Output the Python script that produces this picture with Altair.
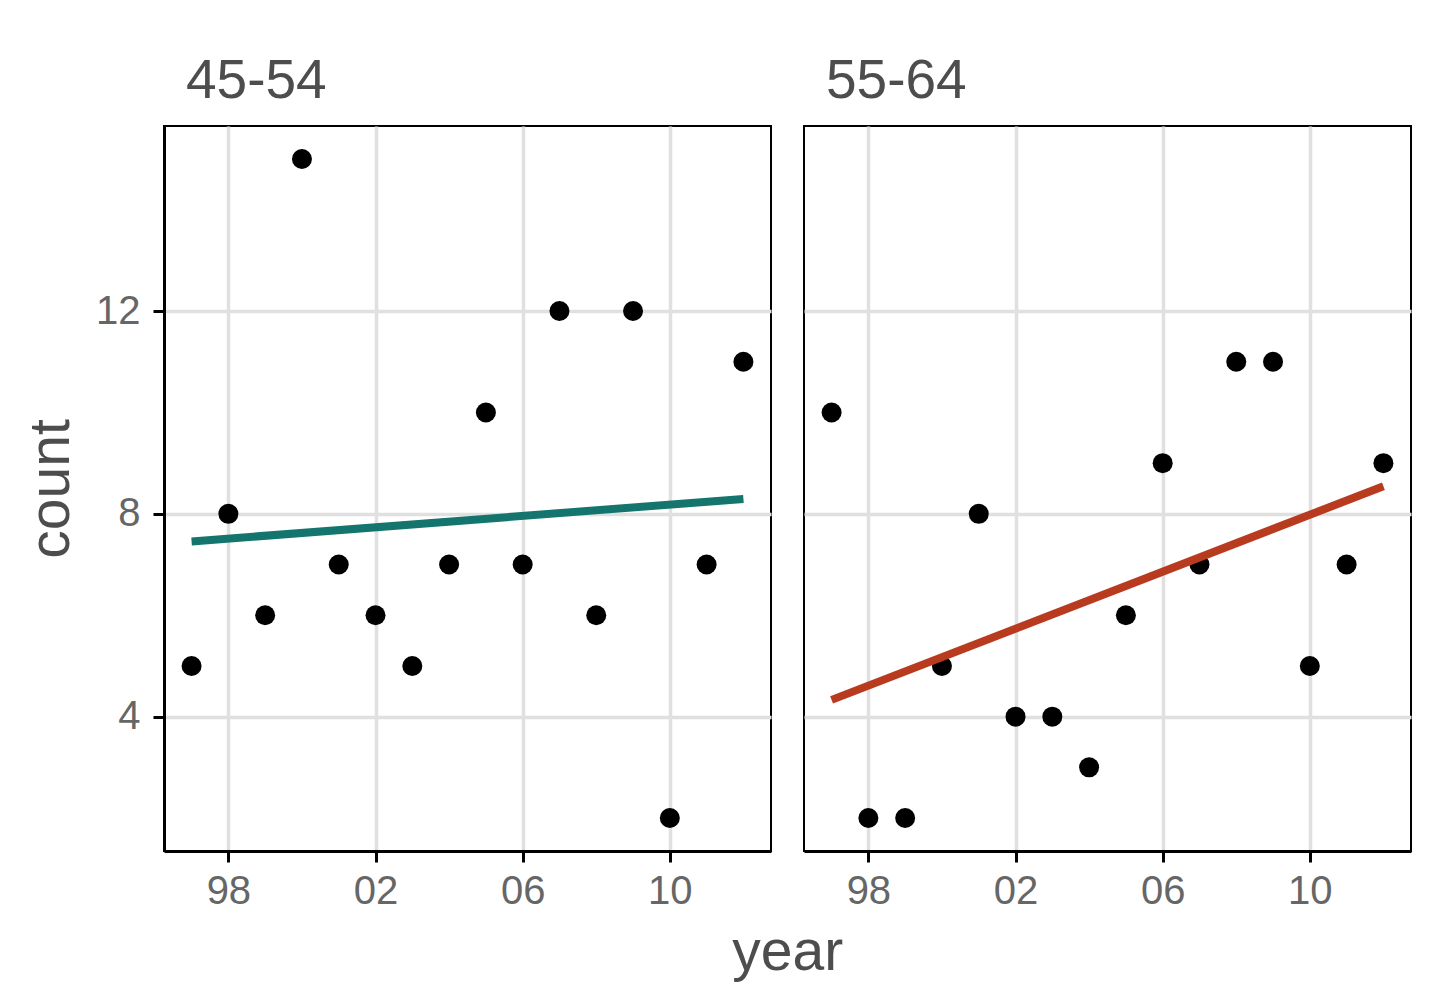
import pandas as pd
import altair as alt

# Values
years = list(range(1997, 2013))
count_45_54 = [5, 8, 6, 15, 7, 6, 5, 7, 10, 7, 12, 6, 12, 2, 7, 11]
count_55_64 = [10, 2, 2, 5, 8, 4, 4, 3, 6, 9, 7, 11, 11, 5, 7, 9]
year_ticks = [1998, 2002, 2006, 2010]
count_ticks = [4, 8, 12]

FONT = 'Liberation Sans'
GRID = '#e0e0e0'


def panel(values, title, line_color, show_y):
    df = pd.DataFrame({'year': years, 'count': values})

    x = alt.X('year:Q', title=None,
              scale=alt.Scale(domain=[1996.25, 2012.75], nice=False, zero=False),
              axis=alt.Axis(values=year_ticks, format='d',
                            labelExpr="substring(datum.label, 2)",
                            grid=True, gridColor=GRID, gridWidth=3.5,
                            domainColor='black', domainWidth=3,
                            tickColor='black', tickWidth=3, tickSize=11,
                            labelFontSize=40, labelColor='#666666', labelFont=FONT,
                            labelPadding=9))
    if show_y:
        yaxis = alt.Axis(values=count_ticks, title='count',
                         grid=True, gridColor=GRID, gridWidth=3.5,
                         domainColor='black', domainWidth=3,
                         tickColor='black', tickWidth=3, tickSize=11,
                         labelFontSize=40, labelColor='#666666', labelFont=FONT,
                         labelPadding=13,
                         titleFontSize=57, titleColor='#4d4d4d', titleFont=FONT,
                         titleFontWeight='normal', titlePadding=15)
    else:
        yaxis = alt.Axis(values=count_ticks, title=None, labels=False, ticks=False,
                         domain=False, grid=True, gridColor=GRID, gridWidth=3.5)
    y = alt.Y('count:Q', scale=alt.Scale(domain=[1.35, 15.65], nice=False, zero=False),
              axis=yaxis)

    points = alt.Chart(df).mark_circle(size=400, color='black', opacity=1).encode(x=x, y=y)
    fit = alt.Chart(df).mark_line(color=line_color, strokeWidth=8, strokeCap='butt').encode(
        x='year:Q', y='count:Q'
    ).transform_regression('year', 'count', method='linear')

    return alt.layer(points, fit).properties(
        width=607, height=725,
        title=alt.TitleParams(title, anchor='start', frame='group', fontSize=55, font=FONT,
                              fontWeight='normal', color='#4d4d4d', dx=22, offset=16)
    )


left = panel(count_45_54, '45-54', '#13756e', True)
right = panel(count_55_64, '55-64', '#b83b20', False)

chart = alt.hconcat(left, right, spacing=31).properties(
    title=alt.TitleParams('year', orient='bottom', anchor='middle', fontSize=57, font=FONT,
                          fontWeight='normal', color='#4d4d4d', dx=71, offset=13),
    padding={'left': 13, 'top': 45, 'right': 16, 'bottom': 4}
).configure_view(stroke='black', strokeWidth=2)

chart.save("out.html", embed_options={"renderer": "svg", "actions": False})
